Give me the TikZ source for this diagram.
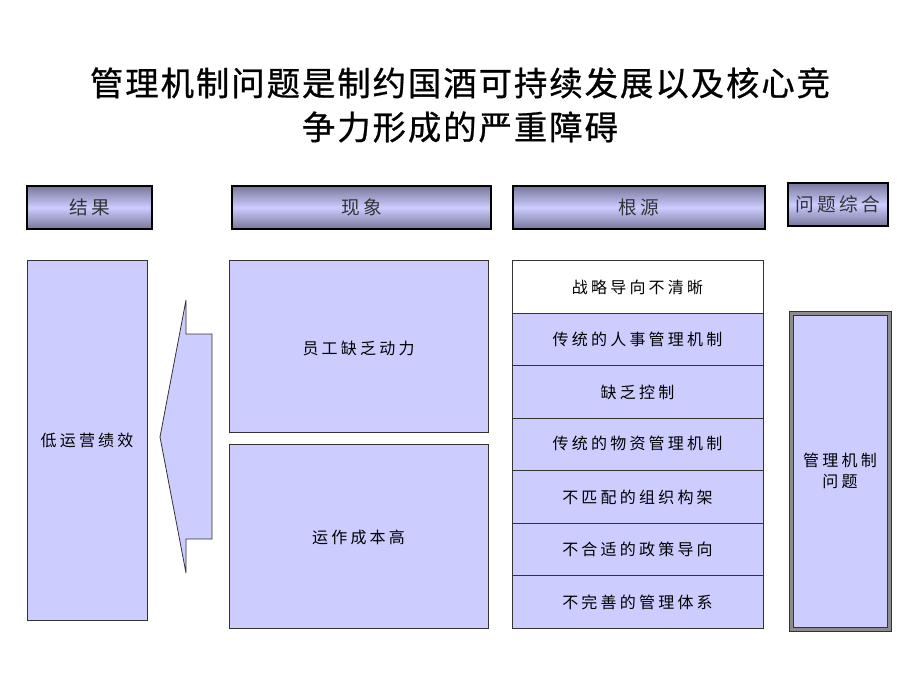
\documentclass[tikz,border=0pt]{standalone}
\usepackage{fontspec}
\setmainfont{Liberation Sans}
\newfontfamily\cjk{Noto Sans CJK SC}
\newfontfamily\cjksp[LetterSpace=20]{Noto Sans CJK SC}
\newfontfamily\cjkhd[LetterSpace=18]{Noto Sans CJK SC}
\newfontfamily\cjktitle[FakeBold=0.8,LetterSpace=6]{Noto Sans CJK SC}
\usetikzlibrary{calc}
\definecolor{lav}{HTML}{CCCCFF}
\definecolor{hdark}{HTML}{77779A}
\tikzset{
  px/.style={x=0.75pt,y=-0.75pt},
  hdr/.style={draw=black,line width=0.9pt,top color=hdark,bottom color=hdark,middle color=lav,shading angle=0},
  hdtext/.style={font=\cjkhd\fontsize{14pt}{16pt}\selectfont,text=black!80},
  box/.style={draw=black!80,line width=0.6pt,fill=lav},
  lbl/.style={font=\cjksp\fontsize{12pt}{16pt}\selectfont,align=center},
}
\begin{document}
\begin{tikzpicture}[px]
\useasboundingbox (0,0) rectangle (920,690);
% title
\node[font=\cjktitle\fontsize{25pt}{33pt}\selectfont,align=center] (title) at (460,105) {管理机制问题是制约国酒可持续发展以及核心竞\\争力形成的严重障碍};
% headers
\path[hdr] (27,186) rectangle (152,229);
\node[hdtext] (h1) at (89.5,207.5) {结果};
\path[hdr] (232,186) rectangle (491,229);
\node[hdtext] (h2) at (361.5,207.5) {现象};
\path[hdr] (513,186) rectangle (765,229);
\node[hdtext] (h3) at (639,207.5) {根源};
\path[hdr] (788,183) rectangle (888,226);
\node[hdtext] (h4) at (838,204.5) {问题综合};
% left box
\draw[box] (27,260) rectangle (147,620);
\node[lbl] (res) at (87,440) {低运营绩效};
% arrow
\draw[box] (160,437) -- (186,300) -- (186,334) -- (212,334) -- (212,539) -- (186,539) -- (186,573) -- cycle;
% phenomena
\draw[box] (229,260) rectangle (488,432);
\node[lbl] (p1) at (358.5,348) {员工缺乏动力};
\draw[box] (229,444) rectangle (488,628);
\node[lbl] (p2) at (358.5,537) {运作成本高};
% roots
\draw[box,fill=white] (512,260) rectangle (763,313);
\node[lbl] (r1) at (637.5,287) {战略导向不清晰};
\draw[box] (512,313) rectangle (763,365);
\node[lbl] (r2) at (637.5,339) {传统的人事管理机制};
\draw[box] (512,365) rectangle (763,418);
\node[lbl] (r3) at (637.5,392) {缺乏控制};
\draw[box] (512,418) rectangle (763,470);
\node[lbl] (r4) at (637.5,443) {传统的物资管理机制};
\draw[box] (512,470) rectangle (763,523);
\node[lbl] (r5) at (637.5,497) {不匹配的组织构架};
\draw[box] (512,523) rectangle (763,575);
\node[lbl] (r6) at (637.5,549) {不合适的政策导向};
\draw[box] (512,575) rectangle (763,628);
\node[lbl] (r7) at (637.5,602) {不完善的管理体系};
% summary
\draw[black!80,line width=0.6pt,fill=black!45] (789,311) rectangle (891,631);
\draw[black!80,line width=0.6pt,fill=lav] (793,315) rectangle (887,627);
\node[lbl] (s) at (840,471) {管理机制\\问题};
\end{tikzpicture}
\end{document}
